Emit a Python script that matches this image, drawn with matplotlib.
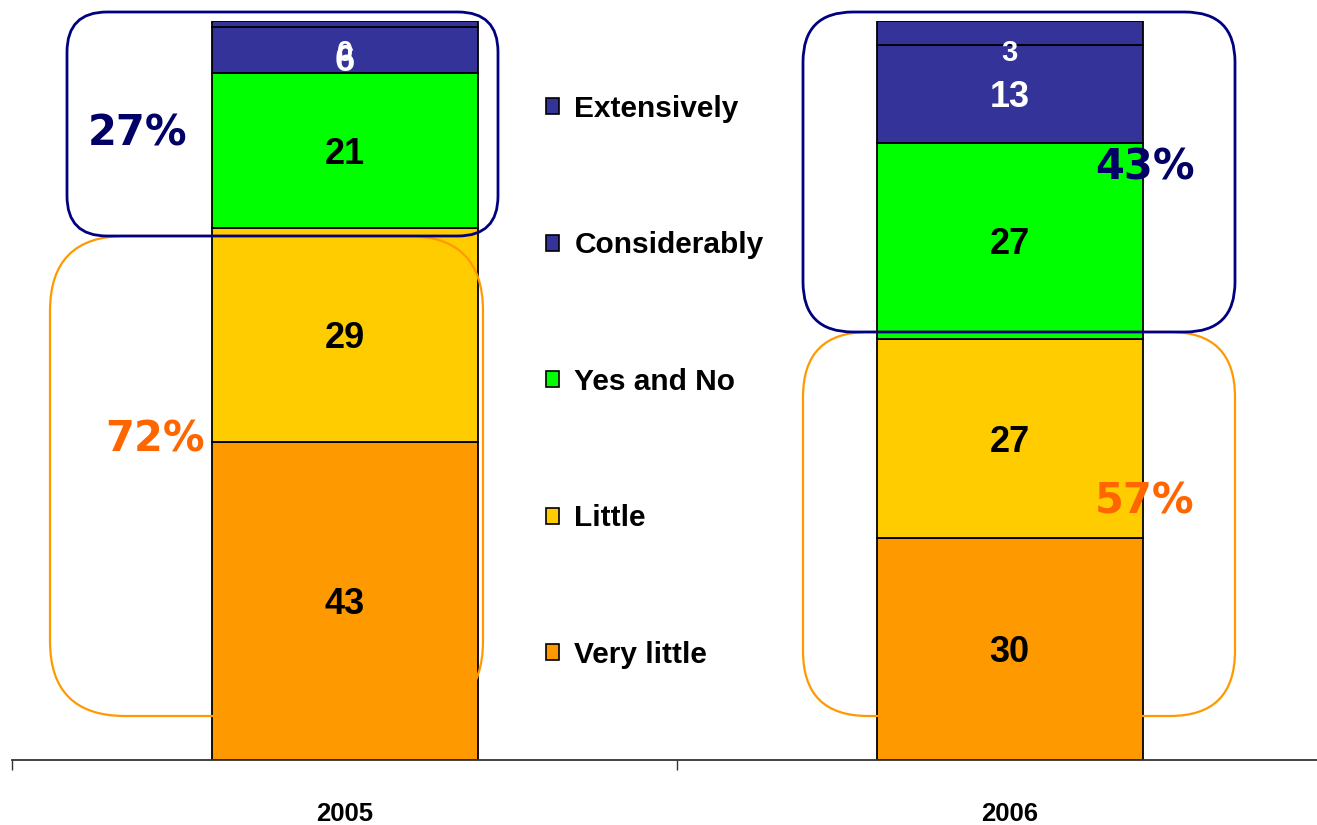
import matplotlib
matplotlib.use("Agg")
import matplotlib.pyplot as plt
import numpy as np
from matplotlib.patches import FancyBboxPatch, Patch
from matplotlib.transforms import IdentityTransform

# ---- data ----
years = ["2005", "2006"]
categories = ["Very little", "Little", "Yes and No", "Considerably", "Extensively"]
very_little = [43, 30]
little = [29, 27]
yes_and_no = [21, 26.5]
considerably = [6.2, 13.3]
extensively = [0.8, 3.2]
label_very_little = ["43", "30"]
label_little = ["29", "27"]
label_yes_and_no = ["21", "27"]
label_considerably = ["6", "13"]
label_extensively = ["0", "3"]
colors = ["#FF9900", "#FFCC00", "#00FF00", "#333399", "#333399"]
text_colors = ["black", "black", "black", "white", "white"]
low_share = ["72%", "57%"]
high_share = ["27%", "43%"]

series = [very_little, little, yes_and_no, considerably, extensively]
labels = [label_very_little, label_little, label_yes_and_no, label_considerably, label_extensively]

W, H = 1317, 825
fig = plt.figure(figsize=(W / 100, H / 100), dpi=100)
ax = fig.add_axes([12 / W, (H - 760) / H, 1330 / W, (760 - 21) / H])
ax.set_xlim(-0.5, 1.5)
ax.set_ylim(0, 100)

x = np.arange(len(years))
bottom = np.zeros(len(years))
for i, (vals, lab) in enumerate(zip(series, labels)):
    vals = np.array(vals, dtype=float)
    ax.bar(x, vals, width=0.4, bottom=bottom, color=colors[i],
           edgecolor="black", linewidth=1.3, zorder=2)
    for j in range(len(years)):
        if categories[i] == "Extensively":
            ty = 95.7
        elif vals[j] < 8:
            ty = bottom[j] + vals[j] / 2 - 1.6
        else:
            ty = bottom[j] + vals[j] / 2 - 0.5
        ax.text(x[j], ty, lab[j], ha="center", va="center",
                fontsize=26 if vals[j] >= 5 else 21, fontweight="bold",
                family=["Liberation Sans", "DejaVu Sans"],
                color=text_colors[i], zorder=5)
    bottom += vals

# axes styling
for s in ["left", "right", "top"]:
    ax.spines[s].set_visible(False)
ax.spines["bottom"].set_color("#333333")
ax.spines["bottom"].set_linewidth(1.3)
ax.set_yticks([])
ax.set_xticks([-0.5, 0.5, 1.5])
ax.set_xticklabels([])
ax.tick_params(axis="x", which="major", direction="out", length=7.5, width=1.0, color="#333333")
ax.set_xticks(x, minor=True)
ax.set_xticklabels(years, minor=True, fontsize=18.5, fontweight="bold",
                   family=["Liberation Sans", "DejaVu Sans"])
ax.tick_params(axis="x", which="minor", length=0, pad=30)

# rounded grouping boxes (pixel coordinates, image y from top)
def rbox(x0, y0, x1, y1, r, color, lw):
    p = FancyBboxPatch((x0 + r, H - y1 + r), (x1 - x0) - 2 * r, (y1 - y0) - 2 * r,
                       boxstyle=f"round,pad={r},rounding_size={r}",
                       transform=IdentityTransform(), fill=False,
                       edgecolor=color, linewidth=lw, zorder=4)
    fig.patches.append(p)

rbox(50, 236, 483, 716, 75, "#FF9900", 1.6)
rbox(803, 332, 1235, 716, 65, "#FF9900", 1.6)
rbox(67, 12, 498, 236, 40, "#000080", 2.0)
rbox(803, 12, 1235, 332, 50, "#000080", 2.0)

# share labels
pct_font = dict(fontsize=30, fontweight="bold", family="DejaVu Sans", ha="center", va="center")
fig.text(138 / W, 1 - 134 / H, high_share[0], color="#000066", **pct_font)
fig.text(155 / W, 1 - 439 / H, low_share[0], color="#FF6600", **pct_font)
fig.text(1145 / W, 1 - 167 / H, high_share[1], color="#000066", **pct_font)
fig.text(1145 / W, 1 - 502 / H, low_share[1], color="#FF6600", **pct_font)

# legend
order = ["Extensively", "Considerably", "Yes and No", "Little", "Very little"]
leg_handles = [Patch(facecolor=colors[categories.index(c)], edgecolor="black", linewidth=1.2) for c in order]
leg = fig.legend(leg_handles, order, loc="upper left",
                 bbox_to_anchor=(546 / W, 1 - 95 / H), frameon=False,
                 prop=dict(family="Liberation Sans", weight="bold", size=21.5),
                 handlelength=0.45, handleheight=0.45, handletextpad=0.5,
                 labelspacing=3.63, borderpad=0, borderaxespad=0)

fig.savefig("out.png", dpi=100)
